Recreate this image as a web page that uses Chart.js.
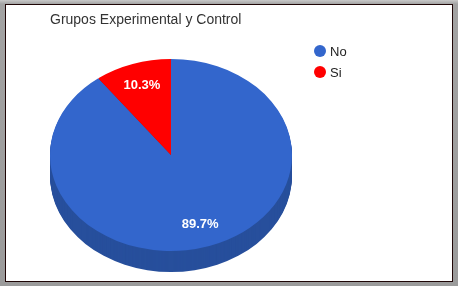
<!DOCTYPE html>
<html>
<head>
<meta charset="utf-8">
<script src="https://cdn.jsdelivr.net/npm/chart.js@4"></script>
<style>
  html, body { margin: 0; padding: 0; }
  body {
    width: 458px; height: 286px; overflow: hidden; position: relative;
    background: linear-gradient(#c9c9c9 0px, #a3a3a3 4px, #9b9b9b 100%);
  }
  #frame {
    position: absolute; left: 5px; top: 4px; width: 446px; height: 276px;
    background: #fff; border: 1px solid #1e0505;
  }
  #wrap { position: absolute; left: 0; top: 0; width: 458px; height: 286px; }
</style>
</head>
<body>
<div id="frame"></div>
<div id="wrap"><canvas id="chart"></canvas></div>
<script>
// data
const title = "Grupos Experimental y Control";
const labels = ["No", "Si"];
const counts = [35, 4];

const topColors = ["#3366cc", "#ff0000"];
const sideColors = ["#274f9c", "#b30000"];
const depth = 21;
const squash = 96 / 121;

function squashAround(ctx, cx, cy) {
    ctx.translate(cx, cy);
    ctx.scale(1, squash);
    ctx.translate(-cx, -cy);
}

const pie3d = {
    id: "pie3d",
    beforeDatasetsDraw(chart) {
        const ctx = chart.ctx;
        const arcs = chart.getDatasetMeta(0).data;
        const cx = arcs[0].x, cy = arcs[0].y;
        // side of the pie
        for (let d = depth; d > 0; d--) {
            ctx.save();
            ctx.translate(0, d);
            squashAround(ctx, cx, cy);
            arcs.forEach((arc, i) => {
                ctx.beginPath();
                ctx.moveTo(arc.x, arc.y);
                ctx.arc(arc.x, arc.y, arc.outerRadius, arc.startAngle, arc.endAngle);
                ctx.closePath();
                ctx.fillStyle = sideColors[i];
                ctx.fill();
            });
            ctx.restore();
        }
        ctx.save();
        squashAround(ctx, cx, cy);
    },
    afterDatasetsDraw(chart) {
        const ctx = chart.ctx;
        ctx.restore();
        const arcs = chart.getDatasetMeta(0).data;
        const total = counts.reduce((a, b) => a + b, 0);
        ctx.save();
        ctx.font = "bold 13px 'Liberation Sans', Arial, sans-serif";
        ctx.fillStyle = "#ffffff";
        ctx.textAlign = "center";
        ctx.textBaseline = "middle";
        arcs.forEach((arc, i) => {
            const mid = (arc.startAngle + arc.endAngle) / 2;
            const r = arc.outerRadius * 0.76;
            const x = arc.x + Math.cos(mid) * r;
            const y = arc.y + Math.sin(mid) * r * squash;
            ctx.fillText((counts[i] / total * 100).toFixed(1) + "%", x, y);
        });
        ctx.restore();
    },
    afterDraw(chart) {
        const ctx = chart.ctx;
        ctx.save();
        // title
        ctx.font = "14px 'Liberation Sans', Arial, sans-serif";
        ctx.fillStyle = "#333333";
        ctx.textAlign = "left";
        ctx.textBaseline = "alphabetic";
        ctx.fillText(title, 50, 24);
        // legend
        ctx.font = "13px 'Liberation Sans', Arial, sans-serif";
        labels.forEach((lab, i) => {
            const y = 51 + i * 21;
            ctx.beginPath();
            ctx.arc(320, y, 6, 0, Math.PI * 2);
            ctx.fillStyle = topColors[i];
            ctx.fill();
            ctx.fillStyle = "#222222";
            ctx.textBaseline = "middle";
            ctx.fillText(lab, 330, y + 1);
        });
        ctx.restore();
    }
};

new Chart(document.getElementById("chart"), {
    type: "pie",
    data: {
        labels: labels,
        datasets: [{
            data: counts,
            backgroundColor: topColors,
            borderWidth: 0
        }]
    },
    options: {
        responsive: true,
        maintainAspectRatio: false,
        animation: false,
        events: [],
        layout: { padding: { left: 50, right: 166, top: 34, bottom: 10 } },
        plugins: {
            legend: { display: false },
            title: { display: false },
            tooltip: { enabled: false }
        }
    },
    plugins: [pie3d]
});
</script>
</body>
</html>
